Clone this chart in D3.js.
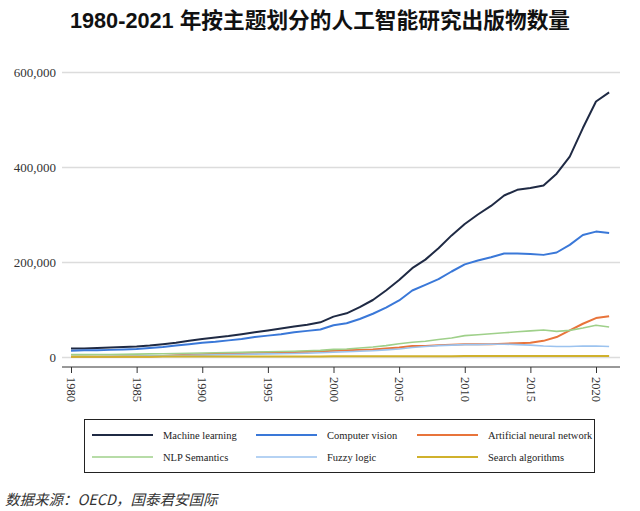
<!DOCTYPE html>
<html><head><meta charset="utf-8">
<script src="https://cdn.jsdelivr.net/npm/d3@7"></script>
<style>body{margin:0;background:#fff}svg{display:block}</style>
</head><body><svg id="c" width="640" height="511"></svg>
<script>
const years = d3.range(1980, 2022);
const seriesNames = ["Machine learning","Computer vision","Artificial neural network","NLP Semantics","Fuzzy logic","Search algorithms"];
const machineLearning = [18,18,19,20,21,22,24,27,30,34,38,41,44,48,52,56,60,64,68,73,85,92,105,120,140,162,187,205,229,256,280,300,318,340,352,356,361,386,422,482,538,557].map(v=>v*1000);
const computerVision = [13,14,14,15,16,17,19,21,24,27,30,32,35,38,42,45,48,52,55,58,67,71,80,91,104,119,140,152,164,180,195,203,210,218,218,217,215,220,236,257,264,261].map(v=>v*1000);
const neuralNetwork = [0.5,0.5,0.6,0.7,0.8,1,1.2,2,3.5,5,6,7,8,8.5,9,9.5,10,10.5,11,12,13,14,15,16,18,20,23,23,25,26,27,27,27,28,29,30,34,42,56,70,82,86].map(v=>v*1000);
const nlpSemantics = [5,5,5.2,5.4,5.6,6,6.5,7,7.5,8,8.5,9,9.5,10,10.5,11,11.5,12,13,14,16,17,19,21,24,28,31,33,37,40,45,47,49,51,53,55,57,54,56,61,67,63].map(v=>v*1000);
const fuzzyLogic = [1,1,1.2,1.4,1.6,2,2.3,2.6,3,3.5,4,4.5,5,5.5,6,6.5,7,7.5,8,9,10,11,12,13,15,17,20,22,24,25,26,26,27,27,26,25,23,22,22,23,23,22].map(v=>v*1000);
const searchAlgorithms = [0.5,0.5,0.5,0.6,0.6,0.7,0.7,0.8,0.8,0.9,0.9,1,1,1,1.1,1.1,1.2,1.2,1.3,1.3,1.4,1.4,1.5,1.5,1.6,1.6,1.7,1.7,1.8,1.8,1.9,1.9,2,2,2,2,2.1,2.1,2.2,2.2,2.3,2.3].map(v=>v*1000);
const yTicks = [0,200000,400000,600000];
const xTicks = [1980,1985,1990,1995,2000,2005,2010,2015,2020];

const data = [machineLearning, computerVision, neuralNetwork, nlpSemantics, fuzzyLogic, searchAlgorithms];
const colors = ["#1f2a44","#3a78d8","#e8743b","#9fd08a","#9cc3ef","#d0b12c"];
const widths = [2,2,2,1.6,1.6,2];

const svg = d3.select("#c");
const x = d3.scaleLinear().domain([1980,2020]).range([71,596]);
const y = d3.scaleLinear().domain([0,600000]).range([357,72]);

svg.append("text").attr("x",320).attr("y",28).attr("text-anchor","middle")
  .attr("font-family","'Liberation Sans', Arial, 'Noto Sans CJK SC'").attr("font-weight","bold").attr("font-size",21.7).attr("fill","#111")
  .text("1980-2021 年按主题划分的人工智能研究出版物数量");

// gridlines
const gy = svg.append("g").attr("transform","translate(62,0)")
  .call(d3.axisLeft(y).tickValues(yTicks).tickSize(-558).tickFormat(d3.format(",")));
gy.select(".domain").remove();
gy.selectAll(".tick line").attr("stroke","#dcdcdc").attr("stroke-width",1.5);
gy.selectAll(".tick text").attr("font-family","'Liberation Serif', 'Times New Roman', serif").attr("font-size",13).attr("fill","#333").attr("x",-6);

// x axis
const gx = svg.append("g").attr("transform","translate(0,367)")
  .call(d3.axisBottom(x).tickValues(xTicks).tickSize(6).tickSizeOuter(0).tickFormat(d3.format("d")));
gx.select(".domain").attr("d","M62,0H620").attr("stroke","#333");
gx.selectAll(".tick line").attr("stroke","#333");
gx.selectAll(".tick text").attr("font-family","'Liberation Serif', 'Times New Roman', serif").attr("font-size",12.5).attr("fill","#333")
  .attr("transform","rotate(90)").attr("text-anchor","start").attr("x",10).attr("y",0).attr("dy","0.35em");

const line = d3.line().x((d,i)=>x(years[i])).y(d=>y(d));
data.forEach((s,k)=>{
  svg.append("path").datum(s).attr("d",line).attr("fill","none").attr("stroke",colors[k]).attr("stroke-width",widths[k]).attr("stroke-linejoin","round");
});

// legend
svg.append("rect").attr("x",84.5).attr("y",419.5).attr("width",510).attr("height",53).attr("fill","none").attr("stroke","#222").attr("stroke-width",1);
const colX = [92,256,417];
seriesNames.forEach((n,k)=>{
  const cx = colX[k%3], cy = k<3?435:457;
  svg.append("line").attr("x1",cx).attr("x2",cx+61).attr("y1",cy).attr("y2",cy).attr("stroke",colors[k]).attr("stroke-width",widths[k]);
  svg.append("text").attr("x",cx+71).attr("y",cy).attr("dy","0.35em").attr("font-family","'Liberation Serif', 'Times New Roman', serif").attr("font-size",10.5).attr("fill","#222").text(n);
});

svg.append("text").attr("x",5).attr("y",505).attr("font-family","'Noto Sans CJK SC', sans-serif").attr("font-style","italic").attr("font-size",14.5).attr("fill","#333")
  .text("数据来源：OECD，国泰君安国际");
</script></body></html>
